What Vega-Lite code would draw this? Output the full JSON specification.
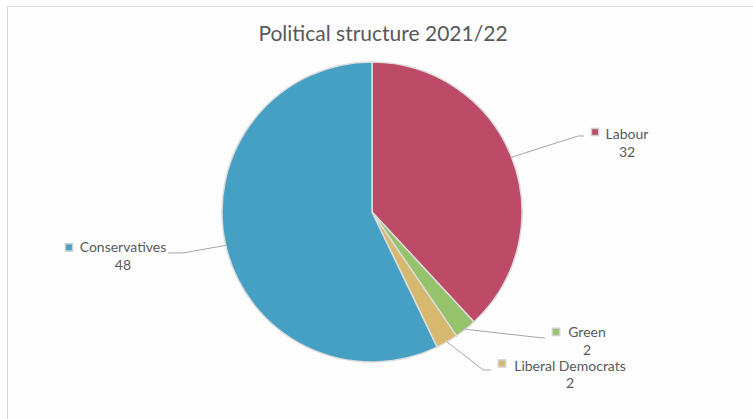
{
  "$schema": "https://vega.github.io/schema/vega-lite/v6.json",
  "width": 760,
  "height": 420,
  "autosize": {"type": "none"},
  "padding": {"left": 7, "top": 6, "right": 0, "bottom": 0},
  "background": "#ffffff",
  "config": {
    "view": {"fill": "#FDFDFD", "stroke": "#D9D9D9", "strokeWidth": 1},
    "text": {"font": "Lato", "fontSize": 14, "fill": "#595959"}
  },
  "title": {
    "text": "Political structure 2021/22",
    "font": "Lato",
    "fontSize": 21,
    "fontWeight": "normal",
    "color": "#595959",
    "anchor": "middle",
    "frame": "group",
    "offset": -39,
    "dx": -4
  },
  "data": {
    "values": [
      {"party": "Labour", "seats": 32, "order": 1},
      {"party": "Green", "seats": 2, "order": 2},
      {"party": "Liberal Democrats", "seats": 2, "order": 3},
      {"party": "Conservatives", "seats": 48, "order": 4}
    ]
  },
  "transform": [
    {"joinaggregate": [{"op": "sum", "field": "seats", "as": "total"}]},
    {"window": [{"op": "sum", "field": "seats", "as": "cum"}], "sort": [{"field": "order", "order": "ascending"}], "frame": [null, 0]},
    {"calculate": "(datum.cum - datum.seats / 2) / datum.total * 2 * PI", "as": "mid"},
    {"calculate": "150 * sin(datum.mid)", "as": "ex"},
    {"calculate": "150 * cos(datum.mid)", "as": "ey"},
    {"calculate": "datum.party + '\\n' + datum.seats", "as": "lbl"}
  ],
  "encoding": {
    "x": {"field": "ex", "type": "quantitative", "scale": {"domain": [-365, 395], "nice": false, "zero": false}, "axis": null},
    "y": {"field": "ey", "type": "quantitative", "scale": {"domain": [-214, 206], "nice": false, "zero": false}, "axis": null},
    "color": {
      "field": "party",
      "type": "nominal",
      "scale": {
        "domain": ["Labour", "Green", "Liberal Democrats", "Conservatives"],
        "range": ["#BD4A67", "#95C26A", "#D6B86F", "#46A0C4"]
      },
      "legend": null
    }
  },
  "layer": [
    {
      "mark": {"type": "arc", "outerRadius": 150, "stroke": "#DCDCDC", "strokeWidth": 1.5},
      "encoding": {
        "x": {"datum": 0, "type": "quantitative"},
        "y": {"datum": 0, "type": "quantitative"},
        "theta": {"field": "seats", "type": "quantitative", "stack": true},
        "order": {"field": "order", "type": "quantitative"}
      }
    },
    {
      "transform": [{"filter": "datum.party === 'Labour'"}],
      "layer": [
        {"mark": {"type": "rule", "x2Offset": 66.4, "y2Offset": -21.2, "strokeWidth": 1}, "encoding": {"x2": {"field": "ex"}, "y2": {"field": "ey"}, "color": {"value": "#A6A6A6"}}},
        {"mark": {"type": "rule", "xOffset": 66.4, "yOffset": -21.2, "x2Offset": 72.4, "y2Offset": -21.2, "strokeWidth": 1}, "encoding": {"x2": {"field": "ex"}, "y2": {"field": "ey"}, "color": {"value": "#A6A6A6"}}},
        {"mark": {"type": "text", "dx": 115.4, "dy": -18.2, "align": "center", "baseline": "alphabetic", "lineBreak": "\n", "lineHeight": 18}, "encoding": {"text": {"field": "lbl"}, "color": {"value": "#595959"}}},
        {"mark": {"type": "point", "shape": "square", "filled": true, "opacity": 1, "size": 52, "stroke": "#D0D0D0", "strokeWidth": 1.5, "xOffset": 83.4, "yOffset": -25.2}}
      ]
    },
    {
      "transform": [{"filter": "datum.party === 'Green'"}],
      "layer": [
        {"mark": {"type": "rule", "x2Offset": 74.5, "y2Offset": 8.4, "strokeWidth": 1}, "encoding": {"x2": {"field": "ex"}, "y2": {"field": "ey"}, "color": {"value": "#A6A6A6"}}},
        {"mark": {"type": "rule", "xOffset": 74.5, "yOffset": 8.4, "x2Offset": 79.5, "y2Offset": 8.4, "strokeWidth": 1}, "encoding": {"x2": {"field": "ex"}, "y2": {"field": "ey"}, "color": {"value": "#A6A6A6"}}},
        {"mark": {"type": "text", "dx": 121.5, "dy": 7.7, "align": "center", "baseline": "alphabetic", "lineBreak": "\n", "lineHeight": 18}, "encoding": {"text": {"field": "lbl"}, "color": {"value": "#595959"}}},
        {"mark": {"type": "point", "shape": "square", "filled": true, "opacity": 1, "size": 52, "stroke": "#D0D0D0", "strokeWidth": 1.5, "xOffset": 90.5, "yOffset": 2.7}}
      ]
    },
    {
      "transform": [{"filter": "datum.party === 'Liberal Democrats'"}],
      "layer": [
        {"mark": {"type": "rule", "x2Offset": 36.3, "y2Offset": 28.1, "strokeWidth": 1}, "encoding": {"x2": {"field": "ex"}, "y2": {"field": "ey"}, "color": {"value": "#A6A6A6"}}},
        {"mark": {"type": "rule", "xOffset": 36.3, "yOffset": 28.1, "x2Offset": 44, "y2Offset": 28.1, "strokeWidth": 1}, "encoding": {"x2": {"field": "ex"}, "y2": {"field": "ey"}, "color": {"value": "#A6A6A6"}}},
        {"mark": {"type": "text", "dx": 123, "dy": 28.8, "align": "center", "baseline": "alphabetic", "lineBreak": "\n", "lineHeight": 17}, "encoding": {"text": {"field": "lbl"}, "color": {"value": "#595959"}}},
        {"mark": {"type": "point", "shape": "square", "filled": true, "opacity": 1, "size": 52, "stroke": "#D0D0D0", "strokeWidth": 1.5, "xOffset": 55, "yOffset": 21.6}}
      ]
    },
    {
      "transform": [{"filter": "datum.party === 'Conservatives'"}],
      "layer": [
        {"mark": {"type": "rule", "x2Offset": -42.8, "y2Offset": 7.6, "strokeWidth": 1}, "encoding": {"x2": {"field": "ex"}, "y2": {"field": "ey"}, "color": {"value": "#A6A6A6"}}},
        {"mark": {"type": "rule", "xOffset": -42.8, "yOffset": 7.6, "x2Offset": -57.8, "y2Offset": 7.6, "strokeWidth": 1}, "encoding": {"x2": {"field": "ex"}, "y2": {"field": "ey"}, "color": {"value": "#A6A6A6"}}},
        {"mark": {"type": "text", "dx": -102.8, "dy": 6.6, "align": "center", "baseline": "alphabetic", "lineBreak": "\n", "lineHeight": 18}, "encoding": {"text": {"field": "lbl"}, "color": {"value": "#595959"}}},
        {"mark": {"type": "point", "shape": "square", "filled": true, "opacity": 1, "size": 52, "stroke": "#D0D0D0", "strokeWidth": 1.5, "xOffset": -156.8, "yOffset": 2.1}}
      ]
    }
  ]
}
